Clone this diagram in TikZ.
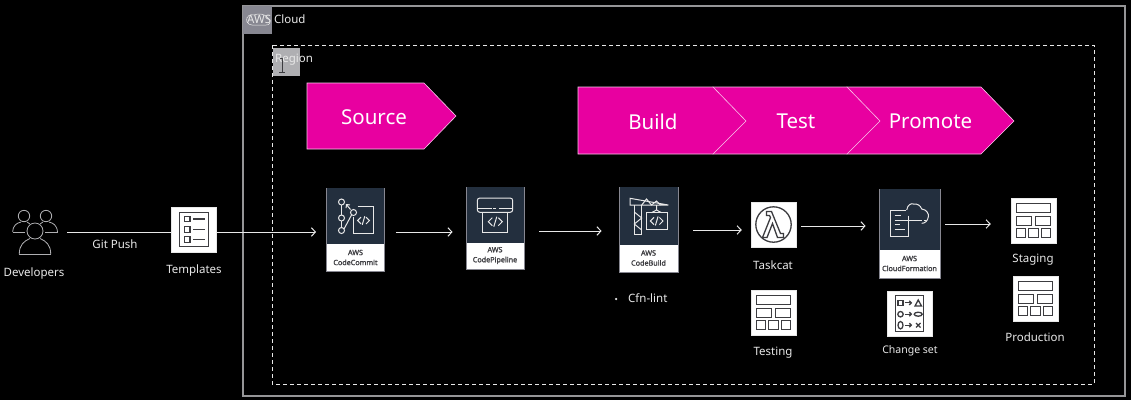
\documentclass[tikz,border=0pt]{standalone}
\usepackage{fontspec}
\setmainfont{Noto Sans}
\newfontfamily\cardfont[FakeBold=1.6]{Noto Sans}
\usetikzlibrary{arrows.meta, positioning}
\definecolor{stagepink}{RGB}{232,0,160}
\definecolor{stageedge}{RGB}{250,200,235}
\definecolor{panelnavy}{RGB}{35,47,62}
\definecolor{inkgray}{RGB}{60,60,64}
\definecolor{tilegray}{RGB}{135,135,145}
\definecolor{regiongray}{RGB}{175,175,178}
\definecolor{softwhite}{RGB}{232,232,232}
\tikzset{
iconbox/.style={rectangle, fill=white, draw=softwhite, line width=0.5pt, minimum size=45pt, inner sep=0pt},
card/.style={rectangle, fill=white, draw=tilegray, line width=0.8pt, inner sep=0pt},
darkpanel/.style={rectangle, fill=panelnavy, inner sep=0pt},
cardtext/.style={text=inkgray, font=\cardfont\fontsize{7.2}{10}\selectfont, align=center, inner sep=0pt},
caption/.style={text=softwhite, font=\fontsize{11.5}{14}\selectfont, inner sep=0pt},
stagetext/.style={text=white, font=\fontsize{20.5}{24}\selectfont, inner sep=0pt},
stagearrow/.style={fill=stagepink, draw=stageedge, line width=0.6pt, line join=miter},
flow/.style={softwhite, line width=1pt, -{Straight Barb[length=4pt, width=8.5pt]}},
inkline/.style={inkgray, line width=1.3pt},
panelline/.style={softwhite, line width=1pt},
devline/.style={regiongray, line width=0.8pt},
codetag/.pic={
    \draw[panelline] (-3,-4) -- (-7,0) -- (-3,4);
    \draw[panelline] (3,-4) -- (7,0) -- (3,4);
    \draw[panelline] (1.5,-5) -- (-1.5,5);
},
tableicon/.pic={
    \draw[inkline] (-17.3,-16.7) rectangle (17.3,-7.7);
    \draw[inkline] (-17.3,-4.3) rectangle (-1.7,4.7);
    \draw[inkline] (1.7,-4.3) rectangle (17.3,4.7);
    \draw[inkline] (-17.3,7.7) rectangle (-8,17.3);
    \draw[inkline] (-5,7.7) rectangle (5,17.3);
    \draw[inkline] (8,7.7) rectangle (17.3,17.3);
}}

\begin{document}
\begin{tikzpicture}[x=1pt, y=-1pt]
    \useasboundingbox (0,0) rectangle (1131,400);
    \fill[black] (0,0) rectangle (1131,400);
    % Groups
    \draw[regiongray!85!black, line width=1.2pt] (243,6) rectangle (1125,396);
    \fill[tilegray] (243,6) rectangle (272,34);
    \draw[softwhite, line width=0.5pt] (247,22) .. controls (245,15) and (252,14) .. (254,15)
        .. controls (258,13) and (266,14) .. (268,18) .. controls (272,20) and (270,26) .. (266,25) -- (252,25)
        .. controls (250,25) and (248,24) .. (247,22);
    \node[caption, anchor=west] (cloudlabel) at (247,19) {AWS Cloud};
    \draw[softwhite, line width=0.9pt, dash pattern=on 4pt off 3pt] (272,45) rectangle (1094,384);
    \fill[regiongray] (273,48) rectangle (300,76);
    \draw[inkgray, line width=0.7pt] (279,58) -- (285,58) (282,58) -- (282,72) (279,72) -- (285,72);
    \node[caption, anchor=west] (regionlabel) at (275,59.5) {Region};
    % Stages
    \draw[stagearrow] (307,83) -- (424,83) -- (456,116) -- (424,149) -- (307,149) -- cycle;
    \draw[stagearrow] (847,87) -- (981,87) -- (1014,121) -- (981,154) -- (847,154) -- cycle;
    \draw[stagearrow] (713,87) -- (847,87) -- (880,121) -- (847,154) -- (713,154) -- cycle;
    \draw[stagearrow] (578,87) -- (713,87) -- (746,121) -- (713,154) -- (578,154) -- cycle;
    \foreach \stagename/\stagex/\stagey/\stagetitle in {
        source/374/117/Source,
        build/653/121.5/Build,
        test/796/121.5/Test,
        promote/930.5/121.5/Promote} {
        \node[stagetext] (\stagename) at (\stagex,\stagey) {\stagetitle};
    }
    % Developers
    \node[minimum width=64pt, minimum height=40pt, inner sep=0pt] (developers) at (35,232) {};
    \draw[devline] (24,216) circle (5.7);
    \draw[devline] (46,216) circle (5.7);
    \draw[devline] (12.7,232) .. controls (13,225) and (17,223) .. (21,222);
    \draw[devline] (27,222) -- (30,224);
    \draw[devline] (57.5,232) .. controls (57,225) and (53,223) .. (49,222);
    \draw[devline] (43,222) -- (40,224);
    \draw[devline] (12.7,232) -- (25,232) (45,232) -- (57.5,232);
    \draw[devline] (35,231) circle (8);
    \draw[devline] (19.3,254.5) .. controls (19,245) and (24,241) .. (30,238.5);
    \draw[devline] (50.7,254.5) .. controls (51,245) and (46,241) .. (40,238.5);
    \draw[devline] (19.3,254.5) -- (50.7,254.5);
    \node[caption] (developerslabel) at (34,273.5) {Developers};
    % Templates
    \node[iconbox] (templates) at (194,229.5) {};
    \draw[inkline] (179.5,212.5) rectangle (208.5,246.5);
    \foreach \rowy in {219,229.5,239.5} {
        \draw[inkline] (184.5,\rowy-2.7) rectangle (190,\rowy+2.7);
        \draw[inkline] (193,\rowy) -- (205,\rowy);
    }
    \node[caption] (templateslabel) at (194,270.5) {Templates};
    \node[caption] (gitpush) at (115,244) {Git Push};
    % Services
    \node[card, minimum width=58pt, minimum height=83pt] (codecommit) at (355.5,229.5) {};
    \node[darkpanel, minimum width=57pt, minimum height=56.5pt, anchor=north] (commitpanel) at (codecommit.north) {};
    \node[cardtext] (commitlabel) at (355.5,257.5) {AWS\\CodeCommit};
    \node[card, minimum width=58pt, minimum height=82pt] (codepipeline) at (495,228) {};
    \node[darkpanel, minimum width=57pt, minimum height=56pt, anchor=north] (pipelinepanel) at (codepipeline.north) {};
    \node[cardtext] (pipelinelabel) at (495,255.5) {AWS\\CodePipeline};
    \node[card, minimum width=59pt, minimum height=85pt] (codebuild) at (648.5,229.5) {};
    \node[darkpanel, minimum width=58pt, minimum height=58pt, anchor=north] (buildpanel) at (codebuild.north) {};
    \node[cardtext] (buildlabel) at (648.5,258) {AWS\\CodeBuild};
    \node[card, minimum width=61pt, minimum height=89pt] (cloudformation) at (909.5,233.5) {};
    \node[darkpanel, minimum width=60pt, minimum height=61pt, anchor=north] (formationpanel) at (cloudformation.north) {};
    \node[cardtext] (formationlabel) at (909.5,263.5) {AWS\\CloudFormation};
    % CodeCommit icon
    \begin{scope}[shift={(355.5,216.5)}]
        \draw[panelline] (2,-10.5) -- (18,-10.5) -- (18,17) -- (-2,17) -- (-2,0.5);
        \draw[panelline] (-14,-11.5) -- (-14,-1.5) (-14,4.5) -- (-14,11);
        \draw[panelline] (-11.5,12.5) -- (-4,-1.5);
        \draw[panelline, -{Straight Barb[length=2.5pt, width=5pt]}] (-5,-7) -- (-9.5,-12.5);
        \draw[panelline] (-14,-14.5) circle (3);
        \draw[panelline] (-14,1.5) circle (3);
        \draw[panelline] (-14,14) circle (3);
        \draw[panelline] (-2,-4) circle (3);
        \pic[scale=0.85] at (8,4) {codetag};
    \end{scope}
    % CodePipeline icon
    \begin{scope}[shift={(495,215)}]
        \draw[panelline, rounded corners=2.5pt] (-17.7,-17) rectangle (17.7,-2.7);
        \draw[panelline] (-17.7,-6.5) -- (-3.5,-6.5) (-2,-6.5) -- (1,-6.5) (4,-6.5) -- (17.7,-6.5);
        \draw[panelline] (-12.3,-2.7) rectangle (12.7,17.7);
        \pic[scale=1] at (0.3,6.7) {codetag};
    \end{scope}
    % CodeBuild icon
    \begin{scope}[shift={(648.5,216)}]
        \draw[panelline] (-18.5,-17.7) -- (19.8,-11) -- (-18.5,-11) -- cycle;
        \draw[panelline] (-14.2,-11) -- (-14.2,18) -- (-6.8,18) -- (-6.8,-11);
        \draw[panelline] (-14.2,-4) -- (-6.8,2) -- (-14.2,8) -- (-6.8,14);
        \draw[panelline] (-6.8,-11) -- (-2,-17) -- (3,-11) -- (8,-15) -- (12,-11);
        \draw[panelline] (8,-11) -- (8,-6) -- (3,-3.3) (8,-6) -- (13,-3.3);
        \draw[panelline] (-1.8,-3.3) rectangle (18.8,13);
        \pic[scale=0.9] at (8.2,5) {codetag};
    \end{scope}
    % CloudFormation icon
    \begin{scope}[shift={(909.5,219.5)}]
        \draw[panelline] (-0.8,-4) -- (-0.8,17.2) -- (-18.8,17.2) -- (-18.8,-8.8) -- (-4,-8.8);
        \draw[panelline] (-15,-4) -- (-9,-4) (-15,5) -- (-10,5) (-15,10) -- (-5,10);
        \draw[panelline] (-15,0.5) -- (12,0.5) (14,0.5) -- (16,0.5);
        \draw[panelline] (-2.8,-9.5) .. controls (-2,-15) and (2,-16.5) .. (3.8,-15.5)
            .. controls (8,-16) and (11,-14) .. (12.2,-10.5)
            .. controls (17,-10) and (19.5,-6) .. (18.8,-2.8)
            .. controls (18.5,1) and (15.5,4) .. (12.2,3.8);
    \end{scope}
    % Lambda
    \node[iconbox] (taskcat) at (773.5,224.5) {};
    \draw[inkline] (773.5,224.5) circle (17.7);
    \begin{scope}[shift={(773.5,224.5)}]
        \draw[inkline, line join=miter] (-7,-13) -- (-2,-13) -- (7,9) -- (10,9) -- (10,13) -- (4,13) -- (-1,-1)
            -- (-6.5,13) -- (-11,13) -- (-3,-7) -- (-4,-9) -- (-7,-9) -- cycle;
    \end{scope}
    \node[caption] (taskcatlabel) at (773,265) {Taskcat};
    % Tables
    \node[iconbox] (testing) at (773.5,312.5) {};
    \pic at (773.5,312.5) {tableicon};
    \node[caption] (testinglabel) at (773,352.5) {Testing};
    \node[iconbox] (staging) at (1033.5,220.5) {};
    \pic at (1033.5,220.5) {tableicon};
    \node[caption] (staginglabel) at (1033,260) {Staging};
    \node[iconbox] (production) at (1035.5,298.5) {};
    \pic at (1035.5,298.5) {tableicon};
    \node[caption] (productionlabel) at (1035,337.5) {Production};
    % Change set
    \node[iconbox] (changeset) at (909.5,313.5) {};
    \begin{scope}[shift={(909.5,313.5)}]
        \draw[inkline] (-14.3,-18) rectangle (14.3,18);
        \draw[inkline] (-11.5,-13) rectangle (-6.5,-8);
        \draw[inkline] (5.5,-7.5) -- (8.7,-13.5) -- (12,-7.5) -- cycle;
        \draw[inkline] (-9,0.7) circle (2.7);
        \draw[inkline] (8.7,0.7) ellipse (4 and 2);
        \draw[inkline] (-9,11.7) ellipse (2.5 and 3.7);
        \draw[inkline] (6.5,9.5) -- (11,14) (11,9.5) -- (6.5,14);
        \foreach \rowy in {-10.7,0.7,11.7} {
            \draw[inkline, -{Straight Barb[length=2pt, width=4pt]}] (-5,\rowy) -- (2.7,\rowy);
        }
    \end{scope}
    \node[caption, font=\fontsize{10.5}{13}\selectfont] (changesetlabel) at (910,351) {Change set};
    % Cfn-lint
    \node[caption, anchor=west] (cfnlint) at (628,298) {Cfn-lint};
    \node[circle, fill=softwhite, minimum size=2.5pt, inner sep=0pt] (cfnbullet) at (616,299) {};
    % Connectors
    \draw[softwhite, line width=1pt] (developers.east |- 0,232) -- (templates.west |- 0,232);
    \foreach \from/\to/\flowy/\gapa/\gapb in {
        templates/codecommit/232/0/10,
        codecommit/codepipeline/232/11/13,
        codepipeline/codebuild/231/15/17,
        codebuild/taskcat/230/15/9,
        taskcat/cloudformation/226/5/13,
        cloudformation/staging/224/5/20} {
        \draw[flow, shorten <=\gapa pt, shorten >=\gapb pt] (\from.east |- 0,\flowy) -- (\to.west |- 0,\flowy);
    }
\end{tikzpicture}
\end{document}
